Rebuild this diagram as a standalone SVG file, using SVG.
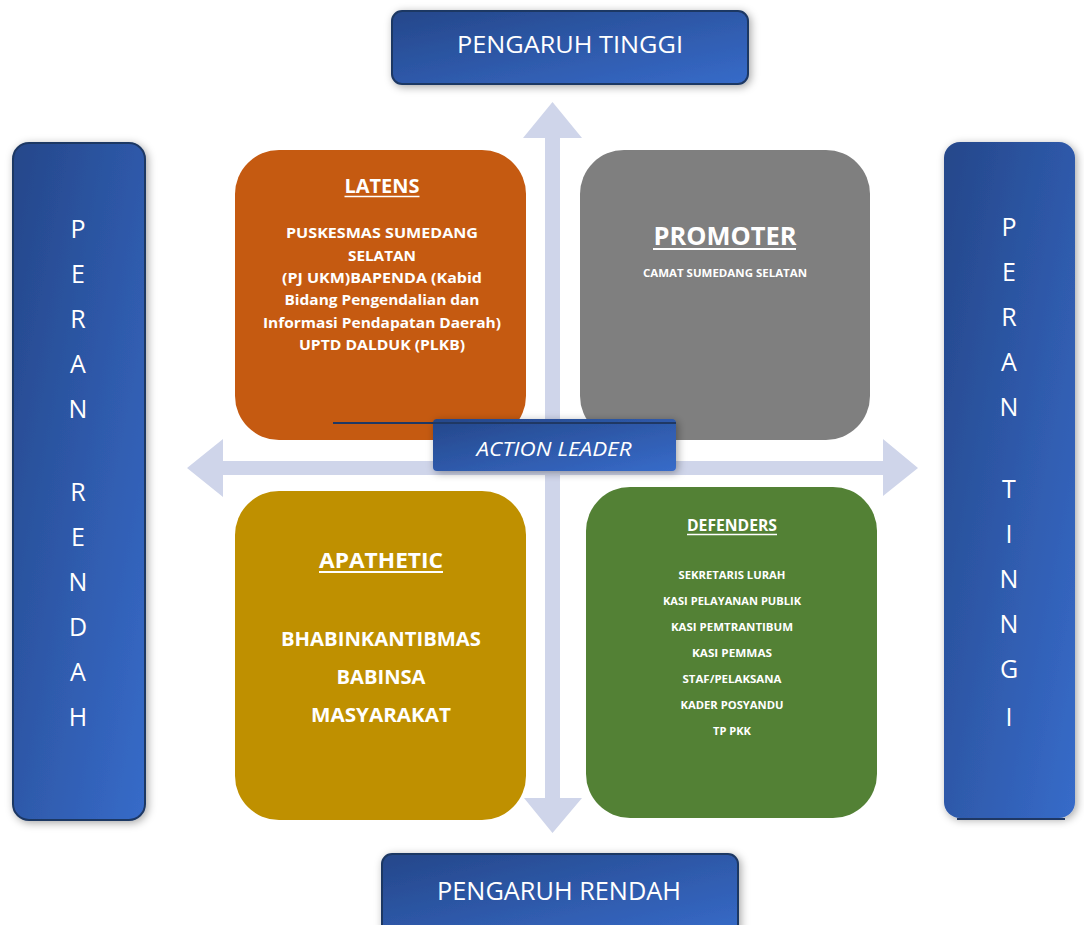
<svg xmlns="http://www.w3.org/2000/svg" width="1084" height="925" viewBox="0 0 1084 925">
  <style>
    .lbl { font-family: "Open Sans", "Liberation Sans", sans-serif; fill: #ffffff; }
    .bold { font-family: "Open Sans", "Liberation Sans", sans-serif; font-weight: bold; fill: #ffffff; }
    .letter { font-family: "Open Sans", "Liberation Sans", sans-serif; fill: #ffffff; font-size: 25px; }
    .arrow { fill: #CFD5EA; }
  </style>
  <defs>
    <linearGradient id="blue" x1="0" y1="0" x2="1" y2="1">
      <stop offset="0" stop-color="#25478A"/>
      <stop offset="1" stop-color="#376BC9"/>
    </linearGradient>
    <linearGradient id="blueV" x1="0" y1="0" x2="1" y2="1" gradientUnits="objectBoundingBox">
      <stop offset="0" stop-color="#25478A"/>
      <stop offset="1" stop-color="#376BC9"/>
    </linearGradient>
    <filter id="shadow" x="-20%" y="-20%" width="140%" height="140%">
      <feDropShadow dx="2" dy="2" stdDeviation="4" flood-color="#000000" flood-opacity="0.35"/>
    </filter>
  </defs>

  <rect width="1084" height="925" fill="#ffffff"/>

  <g id="connectors">
    <path class="arrow" d="M545,138 L523,138 L552.5,102 L582,138 L560,138 L560,798 L582,798 L552.5,833 L524,798 L545,798 Z"/>
    <path class="arrow" d="M223,461 L223,439 L187,468 L223,497 L223,475 L883,475 L883,496 L918,468 L883,439 L883,461 Z"/>
  </g>

  <g id="pengaruh-tinggi">
    <rect x="392" y="11" width="356" height="73" rx="10" fill="url(#blue)" stroke="#1F3864" stroke-width="2" filter="url(#shadow)"/>
    <text class="lbl" x="570" y="53" font-size="24" text-anchor="middle" textLength="226" lengthAdjust="spacingAndGlyphs">PENGARUH TINGGI</text>
  </g>

  <g id="pengaruh-rendah">
    <rect x="382" y="854" width="356" height="82" rx="10" fill="url(#blue)" stroke="#1F3864" stroke-width="2" filter="url(#shadow)"/>
    <text class="lbl" x="559" y="900" font-size="25" text-anchor="middle" textLength="244" lengthAdjust="spacingAndGlyphs">PENGARUH RENDAH</text>
  </g>

  <g id="peran-rendah">
    <rect x="13" y="143" width="132" height="677" rx="16" fill="url(#blueV)" stroke="#1F3864" stroke-width="2" filter="url(#shadow)"/>
    <g class="letter" text-anchor="middle">
      <text x="78" y="238">P</text>
      <text x="78" y="283">E</text>
      <text x="78" y="328">R</text>
      <text x="78" y="373">A</text>
      <text x="78" y="418">N</text>
      <text x="78" y="501">R</text>
      <text x="78" y="546">E</text>
      <text x="78" y="591">N</text>
      <text x="78" y="636">D</text>
      <text x="78" y="681">A</text>
      <text x="78" y="726">H</text>
    </g>
  </g>

  <g id="peran-tinggi">
    <rect x="944" y="142" width="131" height="676" rx="16" fill="url(#blueV)" filter="url(#shadow)"/>
    <line x1="957" y1="819" x2="1065" y2="819" stroke="#1F3864" stroke-width="2"/>
    <g class="letter" text-anchor="middle">
      <text x="1009" y="236">P</text>
      <text x="1009" y="281">E</text>
      <text x="1009" y="326">R</text>
      <text x="1009" y="371">A</text>
      <text x="1009" y="416">N</text>
      <text x="1009" y="498">T</text>
      <text x="1009" y="543">I</text>
      <text x="1009" y="588">N</text>
      <text x="1009" y="633">N</text>
      <text x="1009" y="678">G</text>
      <text x="1009" y="726">I</text>
    </g>
  </g>

  <g id="latens">
    <rect x="235" y="150" width="291" height="290" rx="44" fill="#C55A11"/>
    <text class="bold" x="382" y="193" font-size="20" text-anchor="middle" textLength="75" lengthAdjust="spacingAndGlyphs">LATENS</text>
    <line x1="344.5" y1="196.5" x2="419.5" y2="196.5" stroke="#ffffff" stroke-width="1.6"/>
    <g class="bold" font-size="15" text-anchor="middle">
      <text x="382" y="238" textLength="192" lengthAdjust="spacingAndGlyphs">PUSKESMAS SUMEDANG</text>
      <text x="382" y="261" textLength="68" lengthAdjust="spacingAndGlyphs">SELATAN</text>
      <text x="382" y="283" textLength="200" lengthAdjust="spacingAndGlyphs">(PJ UKM)BAPENDA (Kabid</text>
      <text x="382" y="305" textLength="195" lengthAdjust="spacingAndGlyphs">Bidang Pengendalian dan</text>
      <text x="382" y="328" textLength="238" lengthAdjust="spacingAndGlyphs">Informasi Pendapatan Daerah)</text>
      <text x="382" y="350" textLength="166" lengthAdjust="spacingAndGlyphs">UPTD DALDUK (PLKB)</text>
    </g>
  </g>

  <g id="promoter">
    <rect x="580" y="150" width="290" height="290" rx="44" fill="#7F7F7F"/>
    <text class="bold" x="725" y="245" font-size="25" text-anchor="middle" textLength="143" lengthAdjust="spacingAndGlyphs">PROMOTER</text>
    <line x1="653" y1="249" x2="796" y2="249" stroke="#ffffff" stroke-width="2"/>
    <text class="bold" x="725" y="277" font-size="11" text-anchor="middle" textLength="164" lengthAdjust="spacingAndGlyphs">CAMAT SUMEDANG SELATAN</text>
  </g>

  <g id="apathetic">
    <rect x="235" y="491" width="291" height="329" rx="44" fill="#BF9000"/>
    <text class="bold" x="381" y="568" font-size="22" text-anchor="middle" textLength="124" lengthAdjust="spacingAndGlyphs">APATHETIC</text>
    <line x1="319" y1="572" x2="443" y2="572" stroke="#ffffff" stroke-width="1.8"/>
    <g class="bold" font-size="19" text-anchor="middle">
      <text x="381" y="646" textLength="200" lengthAdjust="spacingAndGlyphs">BHABINKANTIBMAS</text>
      <text x="381" y="684" textLength="89" lengthAdjust="spacingAndGlyphs">BABINSA</text>
      <text x="381" y="722" textLength="140" lengthAdjust="spacingAndGlyphs">MASYARAKAT</text>
    </g>
  </g>

  <g id="defenders">
    <rect x="586" y="487" width="291" height="331" rx="44" fill="#538135"/>
    <text class="bold" x="732" y="531" font-size="16" text-anchor="middle" textLength="90" lengthAdjust="spacingAndGlyphs">DEFENDERS</text>
    <line x1="687" y1="534.5" x2="777" y2="534.5" stroke="#ffffff" stroke-width="1.4"/>
    <g class="bold" font-size="11" text-anchor="middle">
      <text x="732" y="579" textLength="107" lengthAdjust="spacingAndGlyphs">SEKRETARIS LURAH</text>
      <text x="732" y="605" textLength="138" lengthAdjust="spacingAndGlyphs">KASI PELAYANAN PUBLIK</text>
      <text x="732" y="631" textLength="122" lengthAdjust="spacingAndGlyphs">KASI PEMTRANTIBUM</text>
      <text x="732" y="657" textLength="80" lengthAdjust="spacingAndGlyphs">KASI PEMMAS</text>
      <text x="732" y="683" textLength="99" lengthAdjust="spacingAndGlyphs">STAF/PELAKSANA</text>
      <text x="732" y="709" textLength="103" lengthAdjust="spacingAndGlyphs">KADER POSYANDU</text>
      <text x="732" y="735" textLength="38" lengthAdjust="spacingAndGlyphs">TP PKK</text>
    </g>
  </g>

  <g id="action-leader">
    <line x1="333" y1="423" x2="676" y2="423" stroke="#1F3864" stroke-width="2"/>
    <rect x="433" y="419" width="243" height="52" rx="4" fill="url(#blue)" filter="url(#shadow)"/>
    <line x1="433" y1="423" x2="676" y2="423" stroke="#1F3864" stroke-width="2"/>
    <text class="lbl" x="554" y="456" font-size="20" font-style="italic" text-anchor="middle" textLength="155" lengthAdjust="spacingAndGlyphs">ACTION LEADER</text>
  </g>
</svg>
